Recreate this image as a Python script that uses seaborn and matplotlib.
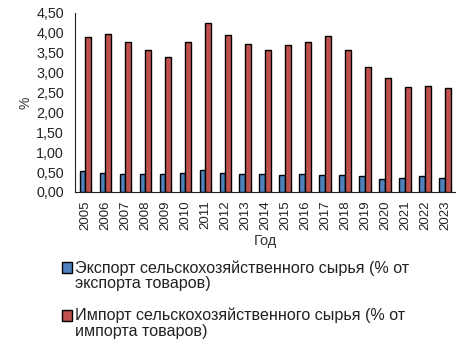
import pandas as pd
import matplotlib
matplotlib.use("Agg")
import matplotlib.pyplot as plt
import seaborn as sns
from matplotlib.patches import Patch
from matplotlib.ticker import FuncFormatter, MultipleLocator

years = [str(y) for y in range(2005, 2024)]
export_share = [0.54, 0.48, 0.46, 0.45, 0.46, 0.48, 0.55, 0.48, 0.46, 0.46,
                0.42, 0.45, 0.42, 0.42, 0.39, 0.33, 0.35, 0.39, 0.36]
import_share = [3.90, 3.98, 3.78, 3.58, 3.39, 3.76, 4.25, 3.94, 3.72, 3.57,
                3.70, 3.77, 3.93, 3.57, 3.14, 2.86, 2.64, 2.67, 2.61]
label_export = "Экспорт сельскохозяйственного сырья (% от\nэкспорта товаров)"
label_import = "Импорт сельскохозяйственного сырья (% от\nимпорта товаров)"

df = pd.DataFrame({
    "Год": years * 2,
    "value": export_share + import_share,
    "series": [label_export] * len(years) + [label_import] * len(years),
})

sns.set_style("white")
plt.rcParams["font.family"] = ["Liberation Sans", "DejaVu Sans"]

colors = {label_export: "#4f81bd", label_import: "#c0504d"}

fig = plt.figure(figsize=(4.70, 3.51), dpi=100)
ax = fig.add_axes([0.16, 0.453, 0.808, 0.51])

sns.barplot(data=df, x="Год", y="value", hue="series", palette=colors,
            width=0.56, edgecolor="black", linewidth=1.0, saturation=1,
            legend=False, ax=ax)

ax.set_ylim(0, 4.5)
ax.yaxis.set_major_locator(MultipleLocator(0.5))
ax.yaxis.set_major_formatter(FuncFormatter(lambda v, p: f"{v:.2f}".replace(".", ",")))
ax.set_ylabel("%", fontsize=10, color="#333333", labelpad=3)
ax.set_xlabel("Год", fontsize=10.5, color="#333333", labelpad=3)
ax.tick_params(axis="x", labelrotation=90, labelsize=9.5, colors="#222222", length=0, pad=6)
ax.tick_params(axis="y", labelsize=10.3, colors="#222222", length=0, pad=8)
sns.despine(ax=ax)
ax.spines["left"].set_color("#222222")
ax.spines["bottom"].set_color("#222222")
ax.set_xlim(-0.5, len(years) - 0.5)

handles = [Patch(facecolor=colors[label_export], edgecolor="black", label=label_export),
           Patch(facecolor=colors[label_import], edgecolor="black", label=label_import)]
leg = fig.legend(handles=handles, loc="upper left", bbox_to_anchor=(0.10, 0.30),
                 frameon=False, fontsize=11.6, handlelength=0.65, handleheight=0.65,
                 handletextpad=0.2, labelspacing=1.05, labelcolor="#222222")
for t in leg.get_texts():
    t.set_linespacing(1.02)
# square sits beside the first line of each label
for h in leg.legend_handles:
    h.set_y(h.get_y() + 5.9)

fig.savefig("out.png", dpi=100)
